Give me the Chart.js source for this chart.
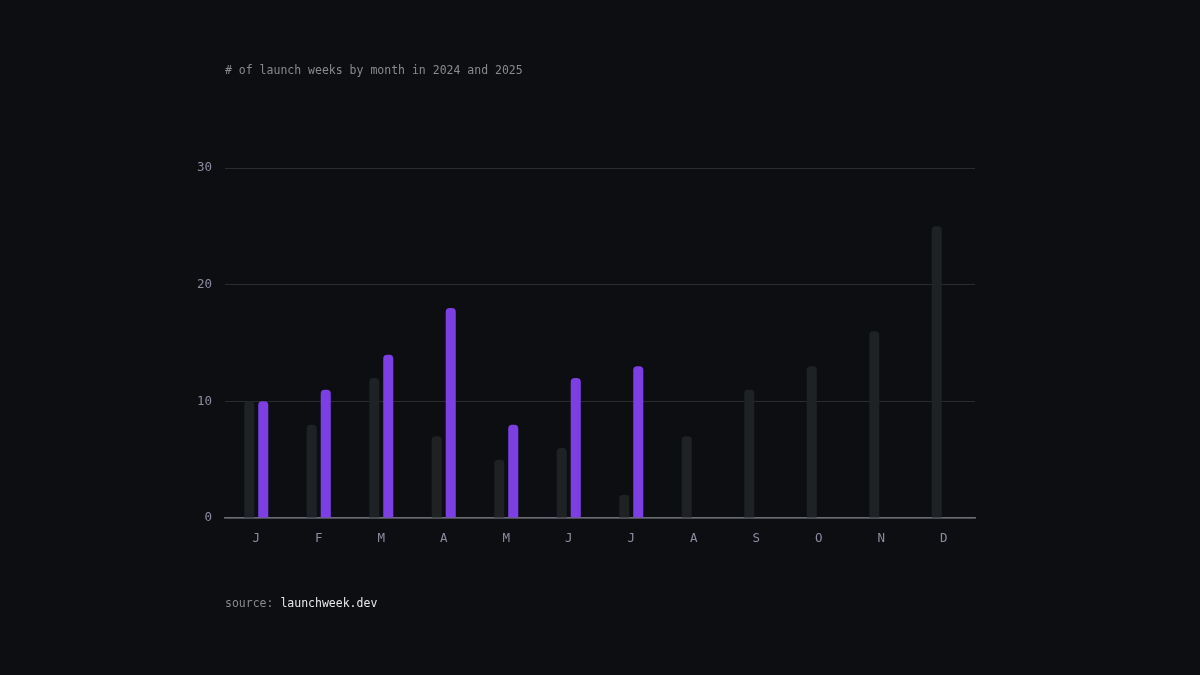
<!DOCTYPE html>
<html>
<head>
<meta charset="utf-8">
<script src="https://cdn.jsdelivr.net/npm/chart.js@4"></script>
<style>
  html, body { margin: 0; padding: 0; background: #0d0e12; }
  #wrap { width: 1200px; height: 675px; }
</style>
</head>
<body>
<div id="wrap"><canvas id="launchChart" width="1200" height="675"></canvas></div>
<script>
const months = ['J', 'F', 'M', 'A', 'M', 'J', 'J', 'A', 'S', 'O', 'N', 'D'];
const weeks2024 = [10, 8, 12, 7, 5, 6, 2, 7, 11, 13, 16, 25];
const weeks2025 = [10, 11, 14, 18, 8, 12, 13, null, null, null, null, null];
const yTicks = [0, 10, 20, 30];

const MONO = '"DejaVu Sans Mono", "Liberation Mono", monospace';

// title + source line drawn straight on the canvas
const textPlugin = {
  id: 'textPlugin',
  afterDraw(chart) {
    const ctx = chart.ctx;
    ctx.save();
    ctx.font = '11.5px ' + MONO;
    ctx.textBaseline = 'middle';
    ctx.fillStyle = '#8a8a8e';
    ctx.fillText('# of launch weeks by month in 2024 and 2025', 225, 71);
    ctx.fillText('source:', 225, 604);
    const w = ctx.measureText('source: ').width;
    ctx.fillStyle = '#e8e8ec';
    ctx.fillText('launchweek.dev', 225 + w, 604);
    ctx.restore();
  }
};

const data = {
  labels: months,
  datasets: [
    {
      label: '2024',
      data: weeks2024,
      backgroundColor: '#1e2224',
      borderRadius: 4,
      borderSkipped: 'start',
    },
    {
      label: '2025',
      data: weeks2025,
      backgroundColor: '#7b3fe4',
      borderRadius: 4,
      borderSkipped: 'start',
    },
  ],
};

const config = {
  type: 'bar',
  data: data,
  plugins: [textPlugin],
  options: {
    responsive: false,
    animation: false,
    events: [],
    layout: { padding: { top: 168, right: 225, left: 0, bottom: 0 } },
    datasets: {
      bar: { categoryPercentage: 0.448, barPercentage: 0.72 }
    },
    plugins: {
      legend: { display: false },
      tooltip: { enabled: false },
    },
    scales: {
      x: {
        grid: { display: false },
        border: { display: true, color: '#6a6c72', width: 1.5 },
        ticks: {
          color: '#8c8ca0',
          font: { family: MONO, size: 12.5 },
          padding: 5,
          maxRotation: 0,
        },
        afterFit(scale) { scale.height = 157; },
      },
      y: {
        min: 0,
        max: 30,
        afterBuildTicks(scale) { scale.ticks = yTicks.map(v => ({ value: v })); },
        grid: { color: '#2a2c30', lineWidth: 1, drawTicks: false },
        border: { display: false },
        ticks: {
          color: '#8c8ca0',
          font: { family: MONO, size: 12.5 },
          padding: 13,
        },
        afterFit(scale) { scale.width = 225; },
      },
    },
  },
};

new Chart(document.getElementById('launchChart'), config);
</script>
</body>
</html>
